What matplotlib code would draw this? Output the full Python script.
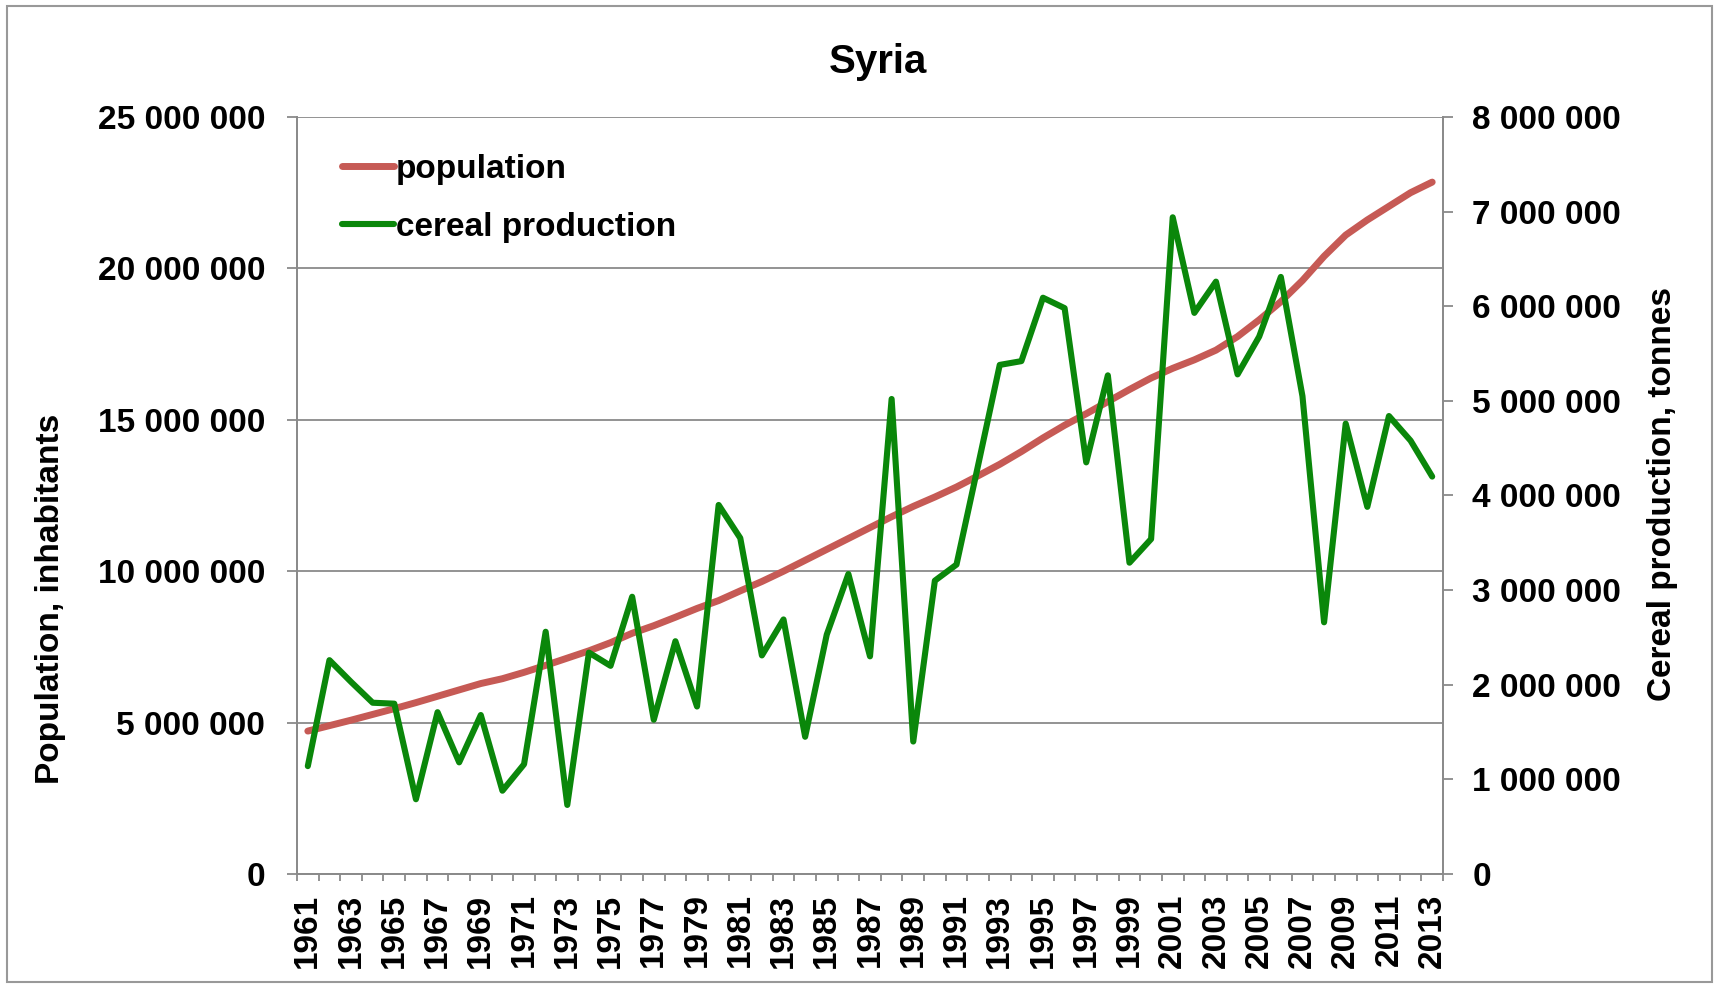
import matplotlib
matplotlib.use("Agg")
import matplotlib.pyplot as plt
from matplotlib.lines import Line2D
from matplotlib.patches import Rectangle
from matplotlib.ticker import FixedLocator, FuncFormatter

plt.rcParams["font.family"] = ["Liberation Sans", "DejaVu Sans"]

years = list(range(1961, 2014))

# population, millions of inhabitants
population = [4.72, 4.90, 5.08, 5.27, 5.46, 5.66, 5.87, 6.08, 6.29, 6.45,
              6.66, 6.89, 7.13, 7.37, 7.64, 7.95, 8.20, 8.48, 8.77, 9.03,
              9.35, 9.66, 10.00, 10.36, 10.72, 11.08, 11.44, 11.80, 12.14, 12.45,
              12.78, 13.15, 13.53, 13.95, 14.40, 14.82, 15.20, 15.60, 16.00, 16.38,
              16.70, 16.98, 17.30, 17.75, 18.30, 18.90, 19.60, 20.40, 21.10, 21.60,
              22.05, 22.50, 22.85]

# cereal production, millions of tonnes
cereal = [1.14, 2.26, 2.03, 1.81, 1.80, 0.79, 1.71, 1.18, 1.68, 0.88,
          1.16, 2.56, 0.73, 2.34, 2.20, 2.93, 1.63, 2.46, 1.77, 3.90,
          3.55, 2.31, 2.69, 1.45, 2.53, 3.17, 2.30, 5.02, 1.40, 3.10,
          3.27, 4.32, 5.38, 5.42, 6.09, 5.98, 4.35, 5.27, 3.29, 3.54,
          6.94, 5.93, 6.26, 5.28, 5.68, 6.31, 5.05, 2.66, 4.76, 3.88,
          4.84, 4.58, 4.20]

pop_ticks = [0, 5e6, 10e6, 15e6, 20e6, 25e6]
cer_ticks = [0, 1e6, 2e6, 3e6, 4e6, 5e6, 6e6, 7e6, 8e6]

red = "#C65A55"
green = "#0A870A"
grey = "#8a8a8a"
fs = 24


def spaced(v, pos=None):
    return f"{v:,.0f}".replace(",", " ")


fig = plt.figure(figsize=(17.17, 9.86), dpi=100)
ax = fig.add_axes([0.17298, 0.11359, 0.66744, 0.76775])
ax2 = ax.twinx()

x = list(range(len(years)))
ax.plot(x, [p * 1e6 for p in population], color=red, lw=5.0,
        solid_capstyle="round", solid_joinstyle="round")
ax2.plot(x, [c * 1e6 for c in cereal], color=green, lw=4.4,
         solid_capstyle="round", solid_joinstyle="round")

ax.set_xlim(-0.5, len(years) - 0.5)
ax.set_ylim(0, 25e6)
ax2.set_ylim(0, 8e6)

# category axis: ticks between years, labels every second year
ax.xaxis.set_major_locator(FixedLocator(x[::2]))
ax.set_xticklabels([str(y) for y in years[::2]], rotation=90,
                   fontsize=fs, fontweight="bold")
ax.xaxis.set_minor_locator(FixedLocator([i - 0.5 for i in range(len(years) + 1)]))
ax.tick_params(axis="x", which="major", length=0, pad=14)
ax.tick_params(axis="x", which="minor", length=5, width=1.3, color=grey)

ax.yaxis.set_major_locator(FixedLocator(pop_ticks))
ax.yaxis.set_major_formatter(FuncFormatter(spaced))
ax.tick_params(axis="y", length=7, width=1.3, color=grey, pad=16, labelsize=fs)
for t in ax.get_yticklabels():
    t.set_fontweight("bold")

ax2.yaxis.set_major_locator(FixedLocator(cer_ticks))
ax2.yaxis.set_major_formatter(FuncFormatter(spaced))
ax2.tick_params(axis="y", length=7, width=1.3, color=grey, pad=14, labelsize=fs)
for t in ax2.get_yticklabels():
    t.set_fontweight("bold")

ax.grid(axis="y", color=grey, lw=1.3)
ax.set_axisbelow(True)
for a in (ax, ax2):
    a.spines["top"].set_visible(False)
    for s in ("left", "right", "bottom"):
        a.spines[s].set_color(grey)
        a.spines[s].set_linewidth(1.3)

fig.text(0.5114, 0.937, "Syria", ha="center", va="center",
         fontsize=29, fontweight="bold")
fig.text(0.0297, 0.3925, "Population, inhabitants", rotation=90,
         ha="center", va="center", fontsize=fs, fontweight="bold")
fig.text(0.968, 0.499, "Cereal production, tonnes", rotation=90,
         ha="center", va="center", fontsize=fs, fontweight="bold")

handles = [Line2D([], [], color=red, lw=5.0, solid_capstyle="round"),
           Line2D([], [], color=green, lw=4.4, solid_capstyle="round")]
leg = ax2.legend(handles, ["population", "cereal production"],
                 loc="upper left", bbox_to_anchor=(342 / 1717, 1 - 154 / 986),
                 bbox_transform=fig.transFigure, frameon=False, borderpad=0,
                 borderaxespad=0, handlelength=1.56, handletextpad=0.05,
                 labelspacing=0.8, prop={"size": fs, "weight": "bold"})

fig.patches.append(Rectangle((0.004, 0.004), 0.993, 0.99, transform=fig.transFigure,
                             fill=False, edgecolor="#999999", lw=1.5))

fig.savefig("out.png", dpi=100)
